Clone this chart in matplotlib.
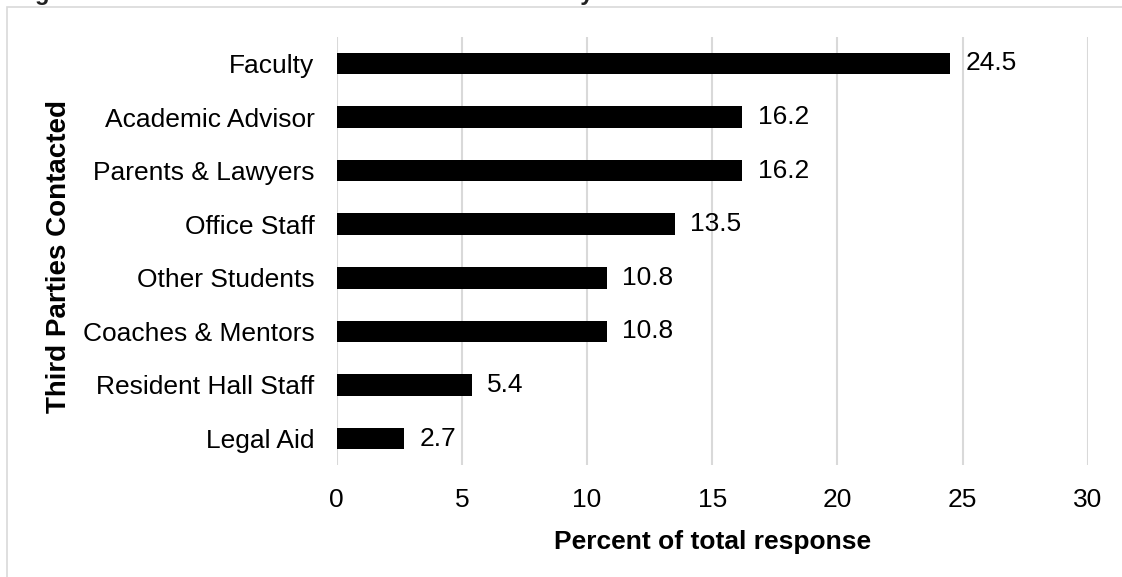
import matplotlib.pyplot as plt
from matplotlib.patches import Rectangle

categories = ['Faculty', 'Academic Advisor', 'Parents & Lawyers', 'Office Staff',
              'Other Students', 'Coaches & Mentors', 'Resident Hall Staff', 'Legal Aid']
values = [24.5, 16.2, 16.2, 13.5, 10.8, 10.8, 5.4, 2.7]

plt.rcParams['font.family'] = ['Liberation Sans', 'DejaVu Sans']

fig = plt.figure(figsize=(11.22, 5.77), dpi=100)
ax = fig.add_axes([0.3001, 0.1936, 0.6693, 0.7428])

# light frame around the chart area (cut off at right/bottom like the source)
fig.patches.append(Rectangle((7 / 1122, -0.05), 1.1, 1 - 7 / 577 + 0.05,
                             transform=fig.transFigure, fill=False,
                             edgecolor='#d9d9d9', linewidth=1.2))

# caption sits above the top edge; only its descenders show
fig.text(14 / 1122, 1.0, 'Figure 4. Third Parties Contacted for Self-Advocacy Assistance',
         fontsize=17, fontweight='bold', color='#222222', va='baseline', ha='left')

y = list(range(len(categories)))
ax.barh(y, values, height=0.405, color='black', zorder=3)
for yi, v in zip(y, values):
    ax.annotate(f'{v}', (v, yi), xytext=(11, 0), textcoords='offset points',
                va='center', ha='left', fontsize=19)

ax.set_ylim(len(categories) - 0.5, -0.5)
ax.set_yticks(y)
ax.set_yticklabels(categories, fontsize=19)
ax.set_xlim(0, 30)
ax.set_xticks(range(0, 31, 5))
ax.tick_params(axis='x', labelsize=19, length=0, pad=16)
ax.tick_params(axis='y', length=0, pad=16)
ax.grid(axis='x', color='#d9d9d9', linewidth=1.5, zorder=0)
for s in ax.spines.values():
    s.set_visible(False)

ax.set_xlabel('Percent of total response', fontsize=19, fontweight='bold', labelpad=13)
ax.set_ylabel('Third Parties Contacted', fontsize=20, fontweight='bold')
ax.yaxis.set_label_coords(-0.353, 0.486)

fig.savefig('out.png', dpi=100)
